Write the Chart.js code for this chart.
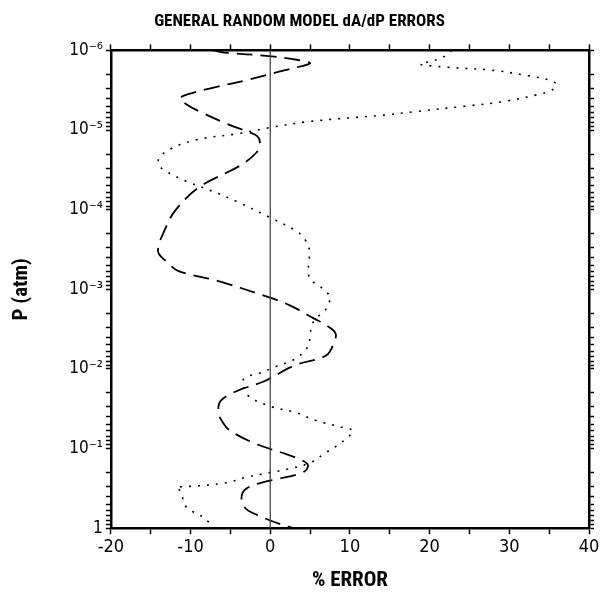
<!DOCTYPE html>
<html>
<head>
<meta charset="utf-8">
<script src="https://cdn.jsdelivr.net/npm/chart.js@4.4.1/dist/chart.umd.min.js"></script>
<style>
  body { margin: 0; background: #fff; }
</style>
</head>
<body>
<canvas id="chart" width="605" height="593"></canvas>
<script>
// Pressure levels (atm) and % error for the dashed curve
const dashedP = [1.0e-6, 1.07e-6, 1.17e-6, 1.32e-6, 1.45e-6, 1.66e-6, 1.86e-6, 2.3e-6, 3.0e-6, 3.55e-6,
  4.0e-6, 4.7e-6, 5.9e-6, 8.3e-6, 1.05e-5, 1.2e-5, 1.45e-5, 1.9e-5, 2.8e-5, 5.2e-5,
  1.05e-4, 1.95e-4, 2.8e-4, 3.55e-4, 4.5e-4, 5.9e-4, 7.9e-4, 1.23e-3, 1.58e-3, 2.3e-3,
  2.95e-3, 3.6e-3, 4.7e-3, 6.8e-3, 8.9e-3, 1.45e-2, 1.86e-2, 2.5e-2, 3.55e-2, 4.6e-2,
  6.0e-2, 8.9e-2, 0.112, 0.135, 0.158, 0.186, 0.209, 0.24, 0.275, 0.33,
  0.436, 0.575, 0.72, 0.87, 1.0];
const dashedErr = [-7.2, -5.5, -0.5, 3.5, 5.0, 3.0, 1.0, -2.5, -7.5, -10.3,
  -11.3, -10.6, -8.8, -5.5, -2.8, -1.6, -1.3, -1.7, -3.8, -8.9,
  -12.0, -13.4, -14.0, -14.0, -13.0, -11.5, -6.5, -0.5, 2.4, 5.4,
  7.3, 8.2, 8.0, 7.0, 3.2, -0.9, -4.0, -6.2, -6.5, -6.0,
  -5.0, -1.6, 1.4, 3.6, 4.7, 4.5, 3.5, 1.0, -1.5, -3.2,
  -3.6, -3.0, -1.1, 1.0, 2.9];

// Pressure levels (atm) and % error for the dotted curve
const dottedP = [1.0e-6, 1.23e-6, 1.45e-6, 1.5e-6, 1.62e-6, 1.78e-6, 2.1e-6, 2.4e-6, 2.7e-6, 3.16e-6,
  3.6e-6, 4.4e-6, 5.0e-6, 5.9e-6, 6.5e-6, 7.8e-6, 9.3e-6, 1.1e-5, 1.32e-5, 1.74e-5,
  2.3e-5, 2.9e-5, 3.55e-5, 4.4e-5, 5.9e-5, 7.9e-5, 1.26e-4, 1.86e-4, 2.4e-4, 3.16e-4,
  7.2e-4, 9.1e-4, 1.12e-3, 1.29e-3, 1.5e-3, 1.78e-3, 2.2e-3, 2.8e-3, 4.0e-3, 5.5e-3,
  7.6e-3, 9.5e-3, 1.12e-2, 1.26e-2, 1.45e-2, 1.74e-2, 2.24e-2, 2.95e-2, 3.55e-2, 4.4e-2,
  5.4e-2, 6.0e-2, 7.4e-2, 9.3e-2, 0.112, 0.151, 0.182, 0.2, 0.229, 0.269,
  0.295, 0.309, 0.339, 0.55, 0.69, 0.93, 1.0];
const dottedErr = [22.8, 21.6, 19.2, 18.8, 22.0, 28.0, 32.6, 35.3, 35.9, 35.3,
  33.5, 29.2, 24.6, 18.0, 14.2, 5.0, 0.0, -3.8, -9.2, -12.6,
  -14.0, -13.8, -12.5, -10.5, -7.2, -4.2, 0.0, 3.3, 4.4, 4.9,
  4.9, 6.2, 7.2, 7.6, 7.3, 7.0, 6.0, 5.2, 5.0, 4.6,
  3.0, 0.5, -1.2, -3.0, -3.5, -3.3, -2.6, 0.0, 3.3, 5.6,
  9.0, 10.4, 9.6, 8.3, 7.0, 5.0, 2.1, 0.0, -3.0, -5.5,
  -9.2, -11.8, -11.3, -10.5, -8.8, -7.2, -7.0];

// Zero reference line
const zeroP = [1.0e-6, 1.0];
const zeroErr = [0, 0];

// Axis ticks
const decadeTicks = [1e-6, 1e-5, 1e-4, 1e-3, 1e-2, 1e-1, 1];
const decadeLabels = ['10⁻⁶', '10⁻⁵', '10⁻⁴', '10⁻³', '10⁻²', '10⁻¹', '1'];
const xLabelTicks = [-20, -10, 0, 10, 20, 30, 40];

const FONT = "'DejaVu Sans Condensed', 'DejaVu Sans', sans-serif";
const TITLE_FONT = "'Roboto Condensed', 'DejaVu Sans', sans-serif";

function toPoints(xs, ys) {
  return xs.map((x, i) => ({ x: x, y: ys[i] }));
}

// all log ticks: 1..9 x 10^n between 1e-6 and 1
function logTicks() {
  const out = [];
  for (let d = 0; d < decadeTicks.length - 1; d++) {
    for (let m = 1; m < 10; m++) out.push({ value: decadeTicks[d] * m });
  }
  out.push({ value: 1 });
  return out;
}

const yAxis = (pos, showLabels) => ({
  type: 'logarithmic',
  position: pos,
  reverse: true,
  min: 1e-6,
  max: 1,
  afterBuildTicks: axis => { axis.ticks = logTicks(); },
  ticks: {
    display: showLabels,
    autoSkip: false,
    color: '#000',
    padding: 3,
    font: { family: FONT, size: 17 },
    callback: v => {
      const i = decadeTicks.findIndex(d => Math.abs(Math.log10(v) - Math.log10(d)) < 1e-6);
      return i >= 0 ? decadeLabels[i] : '';
    }
  },
  grid: {
    drawOnChartArea: false,
    drawTicks: true,
    tickLength: 5,
    tickColor: '#000',
    tickWidth: 1.5
  },
  border: { display: true, color: '#000', width: 2.5 }
});

const xAxis = (pos, showLabels) => ({
  type: 'linear',
  position: pos,
  min: -20,
  max: 40,
  ticks: {
    display: showLabels,
    stepSize: 5,
    autoSkip: false,
    maxRotation: 0,
    color: '#000',
    padding: 2,
    font: { family: FONT, size: 18 },
    callback: v => xLabelTicks.includes(v) ? String(v) : ''
  },
  grid: {
    drawOnChartArea: false,
    drawTicks: true,
    tickLength: 6,
    tickColor: '#000',
    tickWidth: 1.5
  },
  border: { display: true, color: '#000', width: 2.5 }
});

const ctx = document.getElementById('chart').getContext('2d');
new Chart(ctx, {
  type: 'scatter',
  data: {
    datasets: [
      {
        label: 'zero',
        data: toPoints(zeroErr, zeroP),
        showLine: true,
        borderColor: '#444',
        borderWidth: 1.3,
        pointRadius: 0,
        tension: 0
      },
      {
        label: 'dashed',
        data: toPoints(dashedErr, dashedP),
        showLine: true,
        borderColor: '#000',
        borderWidth: 1.8,
        borderDash: [16, 8],
        pointRadius: 0,
        tension: 0.35
      },
      {
        label: 'dotted',
        data: toPoints(dottedErr, dottedP),
        showLine: true,
        borderColor: '#000',
        borderWidth: 1.6,
        borderDash: [2, 7],
        pointRadius: 0,
        tension: 0.35
      }
    ]
  },
  options: {
    responsive: false,
    animation: false,
    layout: { padding: { left: 5, right: 11, top: 6, bottom: 0 } },
    plugins: {
      legend: { display: false },
      tooltip: { enabled: false },
      title: {
        display: true,
        text: 'GENERAL RANDOM MODEL dA/dP ERRORS',
        color: '#000',
        font: { family: TITLE_FONT, size: 17, weight: 'bold condensed' },
        padding: { top: 6, bottom: 12 }
      }
    },
    scales: {
      x: Object.assign(xAxis('bottom', true), {
        title: { display: true, text: '% ERROR', color: '#000', font: { family: TITLE_FONT, size: 21, weight: 'bold condensed' }, padding: { top: 8, bottom: 0 } }
      }),
      x2: xAxis('top', false),
      y: Object.assign(yAxis('left', true), {
        title: { display: true, text: 'P (atm)', color: '#000', font: { family: TITLE_FONT, size: 21, weight: 'bold condensed' }, padding: { top: 4, bottom: 32 } }
      }),
      y2: yAxis('right', false)
    }
  }
});
</script>
</body>
</html>
